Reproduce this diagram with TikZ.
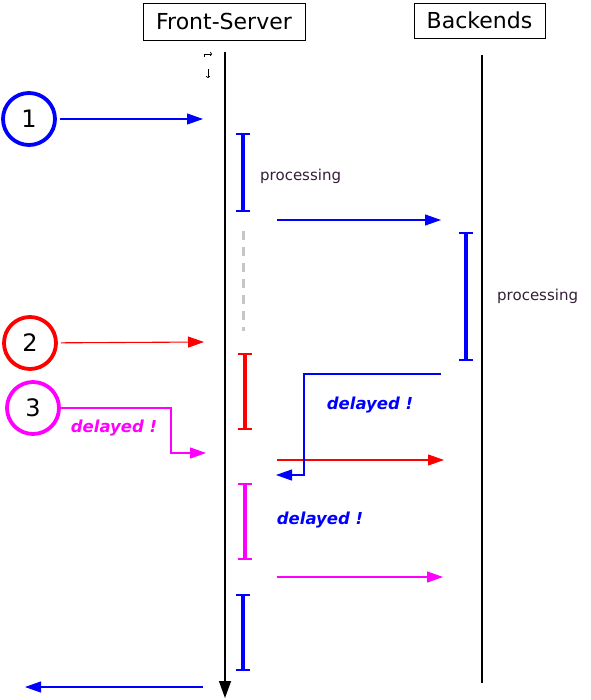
\documentclass[tikz,border=0pt]{standalone}
\usepackage{fontspec}
\setmainfont{DejaVu Sans}
\usepackage{xcolor}
\usetikzlibrary{arrows.meta, positioning}
\definecolor{pblue}{RGB}{0,0,255}
\definecolor{pred}{RGB}{255,0,0}
\definecolor{pmag}{RGB}{255,0,255}
\definecolor{ptext}{RGB}{52,30,56}

\begin{document}
\begin{tikzpicture}[
    x=1pt, y=-1pt,
    head/.style={rectangle, draw, line width=0.8pt, inner sep=0pt,
                 font=\fontsize{22}{24}\selectfont},
    num/.style={circle, draw, line width=3.8pt, minimum size=52pt, inner sep=0pt,
                font=\fontsize{24}{26}\selectfont},
    msg/.style={-{Triangle[length=16pt, width=11pt]}, line width=1.1pt},
    life/.style={line width=1.3pt},
    actbar/.style={line width=3.4pt,
                   {Bar[width=14pt, line width=1.6pt]}-{Bar[width=14pt, line width=1.6pt]}},
    note/.style={font=\fontsize{15}{16}\selectfont, text=ptext, inner sep=0pt},
    late/.style={font=\fontsize{16.5}{18}\selectfont\bfseries\itshape, inner sep=0pt}
]
\useasboundingbox (0,0) rectangle (590,700);

% headers
\node[head, minimum width=162pt, minimum height=37pt] (fs) at (224,21.5) {Front-Server};
\node[head, minimum width=131pt, minimum height=35pt] (be) at (479.5,20.5) {Backends};

% lifelines
\coordinate (fstop) at (225,52);
\coordinate (fsend) at (225,698);
\coordinate (betop) at (482,55);
\coordinate (beend) at (482,683);
\draw[life, -{Triangle[length=17pt, width=12pt]}] (fstop) -- (fsend);
\draw[life] (betop) -- (beend);

% little marks at the top
\draw[line width=0.7pt, -{To[length=2pt]}] (204,57) -- (204,54) -- (212,54);
\draw[line width=0.7pt, -{To[length=2pt]}] (208,69) -- (208,78);

% requests
\node[num, draw=pblue] (c1) at (29,119) {1};
\node[num, draw=pred] (c2) at (30,343) {2};
\node[num, draw=pmag] (c3) at (33,408) {3};

\coordinate (in1) at (203,119);
\coordinate (in2) at (204,342);
\coordinate (in3) at (206,453);
\draw[msg, pblue, shorten <=3pt] (c1) -- (in1);
\draw[msg, pred, shorten <=3pt] (c2) -- (in2);
\draw[msg, pmag] (c3) -| (171,453) -- (in3);
\node[late, text=pmag] (d3) at (114,428) {delayed !};

% activity on the front server
\draw[actbar, pblue] (243,133) -- (243,212);
\node[note, anchor=west] (p1) at (260,176) {processing};
\draw[line width=3pt, gray!45, dash pattern=on 9pt off 7pt] (243,231) -- (243,331);
\draw[actbar, pred] (245,353) -- (245,430);
\draw[actbar, pmag] (245,483) -- (245,560);
\draw[actbar, pblue] (243,594) -- (243,671);

% activity on the backends
\draw[actbar, pblue] (466,232) -- (466,361);
\node[note, anchor=west] (p2) at (497,296) {processing};

% forwarded calls
\coordinate (f1a) at (277,220);
\coordinate (f1b) at (441,220);
\coordinate (f2a) at (277,460);
\coordinate (f2b) at (444,460);
\coordinate (f3a) at (277,577);
\coordinate (f3b) at (443,577);
\draw[msg, pblue] (f1a) -- (f1b);
\draw[msg, pred] (f2a) -- (f2b);
\draw[msg, pmag] (f3a) -- (f3b);

% answer from the backends
\coordinate (r1a) at (441,374);
\coordinate (r1b) at (276,475);
\draw[msg, pblue] (r1a) -- (304,374) -- (304,475) -- (r1b);
\node[late, text=pblue] (d1) at (370,405) {delayed !};
\node[late, text=pblue] (d2) at (320,520) {delayed !};

% reply to client
\coordinate (outa) at (203,687);
\coordinate (outb) at (25,687);
\draw[msg, pblue] (outa) -- (outb);
\end{tikzpicture}
\end{document}
